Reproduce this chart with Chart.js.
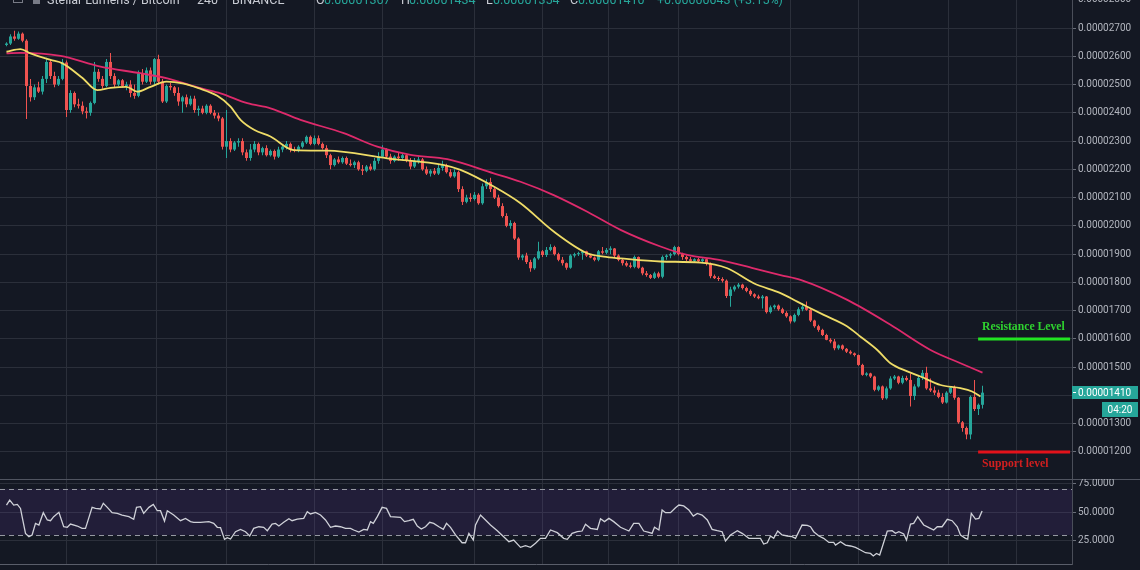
<!DOCTYPE html>
<html><head><meta charset="utf-8">
<script src="https://cdn.jsdelivr.net/npm/chart.js@4.4.1/dist/chart.umd.min.js"></script>
<style>
html,body{margin:0;padding:0;background:#141823;overflow:hidden;}
#wrap{position:relative;width:1140px;height:570px;background:#141823;}
#main{position:absolute;left:0;top:0;width:1140px;height:479px;}
#rsi{position:absolute;left:0;top:479px;width:1140px;height:91px;}
</style></head><body>
<div id="wrap"><canvas id="main" width="1140" height="479"></canvas><canvas id="rsi" width="1140" height="91"></canvas></div>
<script>
// ---- DATA (prices in satoshi, 1e-8 BTC) ----
const openP = [
2640,2645,2670,2662,2680,2655,2495,2455,2490,2475,
2520,2580,2530,2500,2520,2578,2410,2470,2430,2425,
2405,2400,2435,2545,2520,2495,2580,2530,2500,2515,
2495,2500,2470,2460,2540,2510,2550,2510,2590,2510,
2440,2495,2490,2470,2440,2455,2430,2450,2410,2415,
2400,2425,2400,2390,2380,2280,2300,2270,2295,2300,
2260,2240,2270,2290,2260,2275,2250,2265,2245,2270,
2280,2290,2270,2265,2280,2295,2315,2290,2310,2290,
2275,2250,2215,2235,2225,2240,2220,2215,2225,2200,
2195,2210,2200,2230,2245,2270,2245,2230,2245,2240,
2250,2230,2210,2230,2235,2200,2185,2195,2185,2205,
2215,2190,2175,2190,2130,2085,2100,2095,2110,2080,
2140,2155,2130,2100,2070,2035,2000,2010,1955,1888,
1895,1872,1850,1885,1910,1897,1915,1925,1900,1880,
1868,1852,1895,1900,1903,1910,1895,1888,1880,1910,
1905,1915,1920,1895,1880,1868,1860,1855,1890,1852,
1832,1826,1816,1832,1820,1890,1895,1900,1925,1900,
1890,1882,1876,1882,1875,1882,1865,1822,1815,1812,
1806,1752,1775,1785,1792,1780,1770,1758,1750,1744,
1750,1695,1712,1718,1705,1692,1680,1662,1685,1705,
1714,1703,1665,1645,1632,1614,1597,1591,1567,1577,
1565,1555,1549,1543,1508,1473,1478,1467,1420,1432,
1390,1425,1460,1467,1445,1462,1455,1398,1432,1462,
1480,1425,1418,1410,1395,1375,1410,1428,1392,1305,
1285,1262,1395,1352,1367];
const highP = [
2650,2678,2690,2688,2684,2660,2520,2500,2510,2530,
2595,2590,2545,2530,2590,2585,2480,2475,2450,2440,
2420,2440,2580,2555,2530,2590,2612,2540,2520,2520,
2510,2515,2500,2550,2555,2560,2560,2594,2605,2520,
2500,2505,2495,2490,2460,2465,2460,2460,2425,2425,
2430,2430,2410,2400,2385,2410,2310,2300,2310,2310,
2270,2290,2300,2295,2280,2285,2270,2270,2280,2285,
2300,2295,2280,2285,2300,2320,2320,2320,2320,2295,
2285,2255,2240,2245,2245,2245,2235,2230,2230,2215,
2215,2220,2240,2260,2285,2275,2255,2250,2260,2255,
2255,2240,2240,2245,2240,2210,2200,2205,2215,2230,
2220,2200,2200,2195,2140,2110,2115,2120,2115,2150,
2165,2170,2135,2110,2080,2045,2020,2015,1960,1900,
1905,1880,1890,1944,1915,1925,1935,1930,1905,1890,
1870,1900,1905,1908,1915,1912,1900,1892,1915,1925,
1922,1928,1922,1900,1885,1875,1870,1895,1892,1855,
1840,1830,1838,1838,1895,1900,1905,1930,1928,1905,
1895,1890,1885,1886,1885,1885,1870,1828,1822,1818,
1810,1785,1790,1798,1795,1785,1775,1762,1756,1755,
1752,1718,1722,1722,1710,1698,1684,1690,1712,1726,
1732,1708,1668,1650,1636,1618,1602,1600,1580,1580,
1568,1560,1552,1545,1512,1482,1480,1470,1436,1435,
1432,1468,1472,1470,1470,1470,1478,1440,1470,1490,
1502,1460,1432,1420,1408,1415,1432,1435,1395,1310,
1290,1400,1455,1372,1434];
const lowP = [
2635,2640,2655,2658,2650,2378,2440,2445,2470,2465,
2505,2520,2490,2495,2515,2385,2400,2420,2415,2395,
2380,2390,2430,2510,2485,2490,2520,2490,2495,2490,
2480,2455,2450,2455,2500,2505,2500,2500,2500,2435,
2435,2480,2460,2425,2400,2420,2425,2400,2390,2395,
2395,2395,2380,2370,2270,2240,2260,2265,2280,2250,
2230,2230,2260,2250,2250,2245,2245,2235,2240,2260,
2270,2260,2260,2260,2275,2290,2285,2285,2285,2270,
2240,2200,2210,2220,2220,2215,2210,2205,2195,2180,
2190,2195,2195,2220,2240,2240,2220,2225,2230,2230,
2225,2200,2205,2220,2195,2180,2175,2180,2180,2195,
2185,2170,2170,2120,2074,2080,2085,2090,2075,2075,
2130,2120,2095,2065,2030,1995,1990,1950,1880,1878,
1865,1838,1845,1880,1890,1890,1910,1895,1875,1860,
1845,1848,1888,1893,1880,1890,1885,1875,1875,1900,
1900,1900,1890,1875,1860,1855,1850,1850,1848,1825,
1820,1812,1812,1815,1815,1880,1885,1895,1895,1880,
1875,1870,1870,1870,1870,1860,1815,1812,1805,1800,
1745,1714,1768,1778,1775,1765,1752,1745,1740,1708,
1690,1690,1705,1700,1688,1675,1655,1658,1680,1698,
1700,1660,1640,1625,1610,1595,1585,1560,1562,1560,
1550,1545,1538,1505,1470,1468,1462,1415,1415,1384,
1386,1420,1455,1440,1440,1450,1361,1384,1428,1455,
1420,1412,1402,1390,1370,1372,1405,1385,1300,1272,
1245,1245,1345,1331,1354];
const closeP = [
2645,2670,2662,2680,2655,2495,2455,2490,2475,2520,
2580,2530,2500,2520,2578,2410,2470,2430,2425,2405,
2400,2435,2545,2520,2495,2580,2530,2500,2515,2495,
2500,2470,2460,2540,2510,2550,2510,2590,2510,2440,
2495,2490,2470,2440,2455,2430,2450,2410,2415,2400,
2425,2400,2390,2380,2280,2300,2270,2295,2300,2260,
2240,2270,2290,2260,2275,2250,2265,2245,2270,2280,
2290,2270,2265,2280,2295,2315,2290,2310,2290,2275,
2250,2215,2235,2225,2240,2220,2215,2225,2200,2195,
2210,2200,2230,2245,2270,2245,2230,2245,2240,2250,
2230,2210,2230,2235,2200,2185,2195,2185,2205,2215,
2190,2175,2190,2130,2085,2100,2095,2110,2080,2140,
2155,2130,2100,2070,2035,2000,2010,1955,1888,1895,
1872,1850,1885,1910,1897,1915,1925,1900,1880,1868,
1852,1895,1900,1903,1910,1895,1888,1880,1910,1905,
1915,1920,1895,1880,1868,1860,1855,1890,1852,1832,
1826,1816,1832,1820,1890,1895,1900,1925,1900,1890,
1882,1876,1882,1875,1882,1865,1822,1815,1812,1806,
1752,1775,1785,1792,1780,1770,1758,1750,1744,1750,
1695,1712,1718,1705,1692,1680,1662,1685,1705,1714,
1703,1665,1645,1632,1614,1597,1591,1567,1577,1565,
1555,1549,1543,1508,1473,1478,1467,1420,1432,1390,
1425,1460,1467,1445,1462,1455,1398,1432,1462,1480,
1425,1418,1410,1395,1375,1410,1428,1392,1305,1285,
1262,1395,1352,1367,1410];

// moving averages (candle index, value)
const maFastX = [0,3.5,6,11,14,19,22.7,26,30,32.7,36,40,44,48,52.7,56,58.5,62,66,71.8,80.2,95.2,109.4,113.5,121.8,128.5,136.8,145.2,149.3,153.5,163.5,173.5,180.2,186.8,193.5,197.7,200.2,204.3,210.2,213.5,217.7,221,225.2,228.5,233.5,238.5,241.4,243.5];
const maFastY = [2616,2625,2610,2587,2575,2523,2480,2488,2492,2475,2492,2510,2504,2487,2460,2422,2375,2339,2316,2268,2266,2239,2215,2198,2139,2080,1980,1903,1891,1885,1874,1870,1850,1797,1762,1732,1714,1685,1644,1608,1561,1514,1485,1467,1437,1426,1414,1396];
const maSlowX = [0,3.5,13.5,23.5,33.5,40.2,48.5,53.5,60.2,66,73.5,84.3,92.7,101,110.2,121.8,128.5,136.8,145.2,153.5,163.5,170.2,178.5,186.8,193.5,198.5,210.2,221,231,238.5,244];
const maSlowY = [2610,2612,2601,2563,2540,2522,2487,2469,2434,2416,2375,2328,2280,2251,2236,2186,2156,2109,2050,1986,1927,1897,1879,1850,1826,1809,1738,1650,1561,1514,1481];

// RSI (candle index, value)
const rsiX = [0,0.8,1.8,2.7,3.5,3.9,4.75,5.6,6.4,7.25,8.1,9.2,10.2,11,11.8,13.1,14.3,15.2,16,17.7,18.9,19.75,21.4,22.25,23.5,24.2,25.2,26.4,27.7,28.9,30.6,31.8,32.5,33.5,34.3,35.6,36.7,37.7,38.5,39.5,40.2,41.8,43.5,44.75,46,46.8,48.5,50.6,51.8,52.7,53.5,54.5,55.2,56,57.25,58.5,59.75,60.8,61.8,63.1,64.3,65.2,66.4,67.25,68.1,69.3,70.6,71.4,72.7,74.3,75.2,76,77.25,78.5,79.75,81,82.25,83.5,84.75,86,86.8,88.1,89.3,90.2,91,91.7,92.7,93.9,95,96,98.5,99.5,100.6,101.7,102.7,103.7,104.75,105.8,106.8,108.1,109.2,110,111,112.25,113.9,114.75,115.6,116.7,117.25,118.5,119.75,121,122.7,124.3,125.6,126.8,128.5,129.75,131,132.25,133.5,134.75,136,137.7,139.3,140.2,141.4,142.7,143.9,144.75,146,147.7,148.5,149.5,150.6,151.8,153.5,155.6,156.8,158.1,159.3,160.6,161.4,162,163.1,163.9,164.75,166,167.25,168.1,169.3,170.6,171.7,172.7,173.9,175.2,176.4,177.7,178.9,179.75,181,182.7,183.9,185.6,187.25,188.5,189.3,190.2,191,191.8,192.8,193.9,195.2,196.4,197.25,198.9,200.2,201,201.8,203.1,204.3,205.6,206.8,207.25,208.5,209.75,211,212.25,213.5,214.75,216,216.7,217.5,218.3,220.2,221.4,222.25,223.1,224.3,225,226,226.8,227.8,229.3,230.6,231.8,232.7,233.9,235.2,236.4,237.7,238.5,239.75,240.3,241.2,242.25,243.1,243.9];
const rsiY = [56.0,60.3,56.0,56.6,53.1,46.0,31.6,28.7,30.2,40.2,38.8,49.4,43.1,42.5,46.0,49.7,37.3,36.8,39.6,37.9,35.9,35.9,54.0,53.1,52.6,57.5,54.0,49.4,48.8,47.4,46.0,43.7,54.0,54.6,48.8,54.0,56.6,51.1,51.1,42.2,51.1,47.4,42.5,44.5,41.7,41.1,41.1,41.7,40.2,36.8,36.5,26.4,27.9,26.7,33.0,35.0,33.0,29.3,35.9,37.3,36.8,33.9,39.6,40.2,37.9,41.1,44.2,42.5,43.9,44.5,50.3,48.3,49.7,47.4,43.1,36.8,37.9,37.3,35.9,35.9,34.5,32.7,35.0,34.5,41.7,40.2,46.0,54.0,53.1,46.0,45.4,41.7,42.5,43.7,37.9,35.3,37.3,41.1,40.2,37.3,35.0,40.2,36.8,30.2,23.5,23.5,31.6,25.8,38.8,47.4,43.1,38.8,33.9,28.7,24.4,25.8,19.5,20.9,19.5,23.0,27.3,27.3,34.5,32.2,27.3,26.4,31.6,33.0,33.6,39.4,35.9,35.0,44.2,41.7,44.5,41.7,36.8,33.6,40.2,40.2,33.6,32.5,31.6,36.8,34.5,51.7,49.4,49.4,53.7,56.0,55.2,51.7,46.5,48.8,47.4,43.1,35.0,33.9,33.0,25.0,30.2,33.9,31.6,27.3,27.3,27.3,22.4,23.5,29.3,27.3,33.6,30.2,29.3,28.7,27.3,38.8,38.5,37.3,33.0,29.3,27.3,23.8,23.8,21.5,24.4,21.5,20.7,19.5,17.2,14.9,14.3,12.1,14.3,12.9,33.6,33.9,31.6,33.0,31.0,25.8,39.6,40.2,46.0,38.8,36.5,34.5,37.3,37.3,43.7,42.5,37.3,30.2,27.3,26.7,48.8,43.9,44.5,50.9];

const priceTicks = [2800,2700,2600,2500,2400,2300,2200,2100,2000,1900,1800,1700,1600,1500,1400,1300,1200];
const rsiTicks = [75,50,25];
const rsiBand = [30,70];
const timeGrid = [15.1,37.6,54.9,77.1,94.1,116.9,133.9,150.6,167.9,196.1,212.9,235.6,252.6];
const levelValues = [1600,1200];
const levelNames = ['Resistance Level','Support level'];
const levelFrom = 242.9, levelTo = 265.9;
const symbolName = 'Stellar Lumens / Bitcoin', intervalName = '240', exchangeName = 'BINANCE';
const countdown = '04:20';

// ---- STYLE ----
const BG = '#141823', GRID = '#2b2f3a', AXIS = '#4a4e59', LABEL = '#b2b5be';
const UP = '#26a69a', DOWN = '#ef5350', TEAL = '#26a69a';
const X_MIN = -1.625, X_SPAN = 268;
const fmt = v => (v / 1e8).toFixed(8);

function xScale(borderShow) {
  return {
    type: 'linear', min: X_MIN, max: X_MIN + X_SPAN, offset: false,
    afterBuildTicks: s => { s.ticks = timeGrid.map(v => ({ value: v })); },
    ticks: { display: false },
    grid: { color: GRID, drawTicks: false, offset: false },
    border: { display: borderShow, color: '#5a5e6a' }
  };
}

function build() {
  const n = closeP.length;
  const idx = closeP.map((_, i) => i);
  const colors = idx.map(i => closeP[i] >= openP[i] ? UP : DOWN);
  const last = n - 1;

  const mainPlugin = {
    id: 'mainDecor',
    beforeDraw(c) { const ctx = c.ctx; ctx.save(); ctx.fillStyle = BG; ctx.fillRect(0, 0, c.width, c.height); ctx.restore(); },
    afterDraw(c) {
      const ctx = c.ctx, ys = c.scales.y, a = c.chartArea;
      ctx.save();
      // price axis labels
      ctx.font = '10px Roboto'; ctx.fillStyle = LABEL; ctx.textBaseline = 'middle'; ctx.textAlign = 'left';
      priceTicks.forEach(v => { ctx.fillText(fmt(v), a.right + 6, ys.getPixelForValue(v)); });
      // level labels
      const lc = ['#2fd22f', '#d11f1f'];
      levelValues.forEach((v, k) => {
        const py = ys.getPixelForValue(v);
        ctx.font = 'bold 11.7px "Liberation Serif"'; ctx.fillStyle = lc[k]; ctx.textBaseline = 'alphabetic';
        ctx.fillText(levelNames[k], 982, k === 0 ? py - 9 : py + 15);
      });
      // last price box
      const py = Math.round(ys.getPixelForValue(closeP[last]));
      ctx.fillStyle = TEAL; ctx.fillRect(a.right, py - 7, 66, 13);
      ctx.fillStyle = '#ffffff'; ctx.fillRect(a.right + 1, py - 1, 3, 1);
      ctx.font = '10px Roboto'; ctx.textBaseline = 'middle'; ctx.fillText(fmt(closeP[last]), a.right + 6, py);
      ctx.fillStyle = TEAL; ctx.fillRect(1102, py + 9, 36, 15);
      ctx.fillStyle = '#ffffff'; ctx.textAlign = 'center'; ctx.fillText(countdown, 1120, py + 17);
      // header (cut off at top)
      ctx.textAlign = 'left'; ctx.textBaseline = 'alphabetic'; ctx.font = '12.5px Roboto';
      ctx.fillStyle = '#787b86'; ctx.strokeStyle = '#787b86';
      ctx.strokeRect(13.5, -6.5, 9, 9); ctx.fillRect(33, -5, 7, 9);
      ctx.fillStyle = '#c9ccd4';
      ctx.fillText(symbolName, 47, 4); ctx.fillText(intervalName, 197, 4); ctx.fillText(exchangeName, 232, 4);
      const parts = [['O', openP[last], 316], ['H', highP[last], 401], ['L', lowP[last], 486], ['C', closeP[last], 570]];
      parts.forEach(p => {
        ctx.fillStyle = '#c9ccd4'; ctx.fillText(p[0], p[2], 4);
        ctx.fillStyle = TEAL; ctx.fillText(fmt(p[1]), p[2] + (p[0] === 'L' ? 7 : 8), 4);
      });
      const ch = closeP[last] - openP[last];
      ctx.fillStyle = TEAL;
      ctx.fillText((ch >= 0 ? '+' : '') + fmt(ch) + ' (' + (ch >= 0 ? '+' : '') + (ch / openP[last] * 100).toFixed(2) + '%)', 657, 4);
      ctx.restore();
    }
  };

  new Chart(document.getElementById('main'), {
    type: 'bar',
    data: {
      datasets: [
        { type: 'line', data: maFastX.map((x, k) => ({ x, y: maFastY[k] })), borderColor: '#efdc67', borderWidth: 1.8, pointRadius: 0, cubicInterpolationMode: 'monotone', order: 0 },
        { type: 'line', data: maSlowX.map((x, k) => ({ x, y: maSlowY[k] })), borderColor: '#de2a6b', borderWidth: 1.8, pointRadius: 0, cubicInterpolationMode: 'monotone', order: 0 },
        { type: 'line', data: [{ x: levelFrom, y: levelValues[0] }, { x: levelTo, y: levelValues[0] }], borderColor: '#22e422', borderWidth: 3, pointRadius: 0, order: 1 },
        { type: 'line', data: [{ x: levelFrom, y: levelValues[1] }, { x: levelTo, y: levelValues[1] }], borderColor: '#e3121b', borderWidth: 3, pointRadius: 0, order: 1 },
        { data: idx.map(i => ({ x: i, y: [openP[i], closeP[i]] })), backgroundColor: colors, barThickness: 3, grouped: false, borderWidth: 0, minBarLength: 1, inflateAmount: 0, order: 2 },
        { data: idx.map(i => ({ x: i, y: [lowP[i], highP[i]] })), backgroundColor: colors, barThickness: 1, grouped: false, borderWidth: 0, minBarLength: 1, inflateAmount: 0, order: 3 }
      ]
    },
    options: {
      responsive: false, animation: false, events: [],
      layout: { padding: 0 },
      plugins: { legend: { display: false }, tooltip: { enabled: false } },
      scales: {
        x: xScale(false),
        y: {
          type: 'linear', position: 'right', min: 1104.48, max: 2799.06,
          afterBuildTicks: s => { s.ticks = priceTicks.filter(v => v >= s.min && v <= s.max).map(v => ({ value: v })); },
          afterFit: s => { s.width = 68; },
          ticks: { display: false },
          grid: { color: GRID, drawTicks: true, tickLength: 4, tickColor: '#6a6e79' },
          border: { display: true, color: AXIS }
        }
      }
    },
    plugins: [mainPlugin]
  });

  const rsiPlugin = {
    id: 'rsiDecor',
    beforeDraw(c) { const ctx = c.ctx; ctx.save(); ctx.fillStyle = BG; ctx.fillRect(0, 0, c.width, c.height); ctx.restore(); },
    beforeDatasetsDraw(c) {
      const ctx = c.ctx, ys = c.scales.y, a = c.chartArea;
      const yTop = ys.getPixelForValue(rsiBand[1]), yBot = ys.getPixelForValue(rsiBand[0]);
      ctx.save();
      ctx.fillStyle = 'rgba(120,70,190,0.14)';
      ctx.fillRect(a.left, yTop, a.right - a.left, yBot - yTop);
      ctx.strokeStyle = '#9598a1'; ctx.lineWidth = 1; ctx.setLineDash([5, 4]);
      [yTop, yBot].forEach(y => { ctx.beginPath(); ctx.moveTo(a.left, Math.round(y) + 0.5); ctx.lineTo(a.right, Math.round(y) + 0.5); ctx.stroke(); });
      ctx.restore();
    },
    afterDraw(c) {
      const ctx = c.ctx, ys = c.scales.y, a = c.chartArea;
      ctx.save();
      ctx.strokeStyle = '#505460'; ctx.lineWidth = 1;
      ctx.beginPath(); ctx.moveTo(0, 0.5); ctx.lineTo(1140, 0.5); ctx.stroke();
      ctx.font = '10px Roboto'; ctx.fillStyle = LABEL; ctx.textBaseline = 'middle'; ctx.textAlign = 'left';
      rsiTicks.forEach(v => ctx.fillText(v.toFixed(4), a.right + 6, ys.getPixelForValue(v)));
      ctx.restore();
    }
  };

  new Chart(document.getElementById('rsi'), {
    type: 'line',
    data: { datasets: [{ data: rsiX.map((x, k) => ({ x, y: rsiY[k] })), borderColor: '#cfd1d8', borderWidth: 1.3, pointRadius: 0, tension: 0 }] },
    options: {
      responsive: false, animation: false, events: [],
      layout: { padding: { top: 0, left: 0, right: 0, bottom: 6 } },
      plugins: { legend: { display: false }, tooltip: { enabled: false } },
      scales: {
        x: xScale(true),
        y: {
          type: 'linear', position: 'right', min: 5.17, max: 78.45,
          afterBuildTicks: s => { s.ticks = rsiTicks.map(v => ({ value: v })); },
          afterFit: s => { s.width = 68; },
          ticks: { display: false },
          grid: { color: GRID, drawTicks: true, tickLength: 4, tickColor: '#6a6e79' },
          border: { display: true, color: AXIS }
        }
      }
    },
    plugins: [rsiPlugin]
  });
}

Promise.all(['10px Roboto', '12.5px Roboto', 'bold 12px "Liberation Serif"'].map(f => document.fonts.load(f))).then(build, build);
</script>
</body></html>
